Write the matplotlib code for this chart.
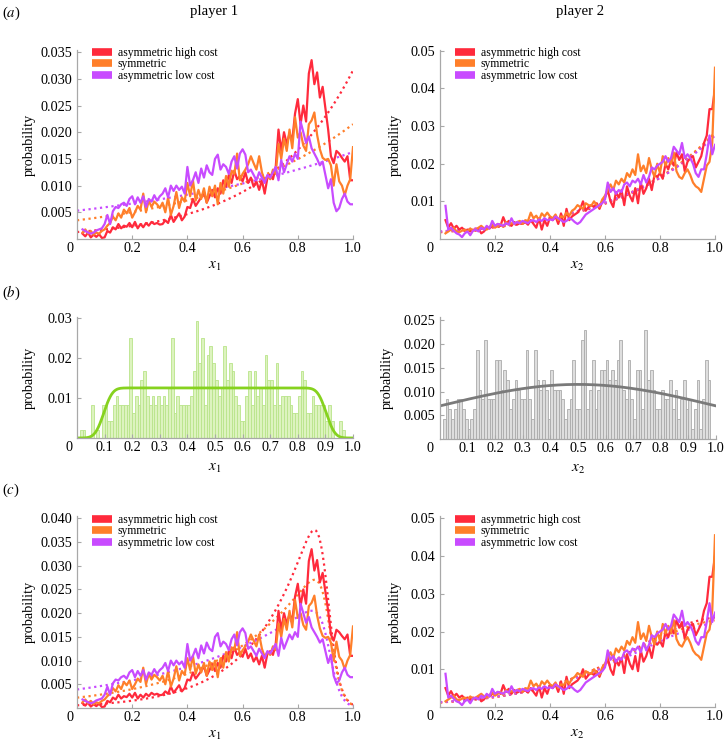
import numpy as np
import matplotlib
matplotlib.use("Agg")
import matplotlib.pyplot as plt
from matplotlib.lines import Line2D
from math import erf

plt.rcParams['font.family'] = ['Liberation Serif', 'DejaVu Serif']
plt.rcParams['mathtext.fontset'] = 'stix'

# ---------------- data ----------------
x_vals = np.round(np.arange(2, 101) / 100, 2)   # 0.02 ... 1.00

series_labels = ['asymmetric high cost', 'symmetric', 'asymmetric low cost']
series_colors = ['#FF2A3C', '#FF7F2A', '#C84BFF']

# player 1 (x1) distributions
p1_high = ([0.0010, 0.0005, 0.0012, 0.0003, 0.0008, 0.0004, 0.0009, 0.0002, 0.0003] +
           [0.0015, 0.0012, 0.0022, 0.0018, 0.0028, 0.0020, 0.0025, 0.0023, 0.0030, 0.0022] +
           [0.0032, 0.0020, 0.0028, 0.0022, 0.0030, 0.0025, 0.0032, 0.0028, 0.0030, 0.0027] +
           [0.0028, 0.0035, 0.0030, 0.0045, 0.0032, 0.0040, 0.0048, 0.0035, 0.0042, 0.0060] +
           [0.0058, 0.0075, 0.0062, 0.0070, 0.0078, 0.0088, 0.0068, 0.0080, 0.0092, 0.0078] +
           [0.0095, 0.0085, 0.0110, 0.0098, 0.0120, 0.0105, 0.0128, 0.0112, 0.0118, 0.0108] +
           [0.0125, 0.0105, 0.0115, 0.0098, 0.0108, 0.0092, 0.0110, 0.0085, 0.0115, 0.0120] +
           [0.0112, 0.0135, 0.0205, 0.0165, 0.0200, 0.0178, 0.0198, 0.0185, 0.0235, 0.0262] +
           [0.0215, 0.0250, 0.0220, 0.0310, 0.0335, 0.0290, 0.0312, 0.0265, 0.0285, 0.0245] +
           [0.0205, 0.0155, 0.0142, 0.0165, 0.0160, 0.0152, 0.0145, 0.0155, 0.0110, 0.0110])
p1_sym = ([0.0012, 0.0018, 0.0010, 0.0015, 0.0008, 0.0012, 0.0010, 0.0015, 0.0018] +
          [0.0025, 0.0030, 0.0042, 0.0035, 0.0048, 0.0040, 0.0055, 0.0048, 0.0058, 0.0040] +
          [0.0050, 0.0062, 0.0055, 0.0085, 0.0050, 0.0072, 0.0060, 0.0070, 0.0065, 0.0058] +
          [0.0068, 0.0050, 0.0078, 0.0045, 0.0062, 0.0088, 0.0058, 0.0078, 0.0070, 0.0105] +
          [0.0080, 0.0110, 0.0072, 0.0092, 0.0075, 0.0095, 0.0068, 0.0098, 0.0080, 0.0100] +
          [0.0065, 0.0105, 0.0085, 0.0118, 0.0098, 0.0128, 0.0122, 0.0160, 0.0110, 0.0122] +
          [0.0130, 0.0140, 0.0155, 0.0142, 0.0130, 0.0155, 0.0125, 0.0108, 0.0118, 0.0112] +
          [0.0130, 0.0122, 0.0178, 0.0150, 0.0188, 0.0165, 0.0205, 0.0170, 0.0228, 0.0190] +
          [0.0200, 0.0175, 0.0165, 0.0215, 0.0222, 0.0237, 0.0195, 0.0168, 0.0152, 0.0148] +
          [0.0150, 0.0138, 0.0100, 0.0140, 0.0108, 0.0100, 0.0082, 0.0100, 0.0112, 0.0172])
p1_low = ([0.0018, 0.0015, 0.0012, 0.0010, 0.0012, 0.0016, 0.0018, 0.0020, 0.0028] +
          [0.0045, 0.0028, 0.0052, 0.0060, 0.0058, 0.0065, 0.0068, 0.0062, 0.0075, 0.0080] +
          [0.0065, 0.0078, 0.0068, 0.0080, 0.0060, 0.0075, 0.0070, 0.0082, 0.0072, 0.0080] +
          [0.0085, 0.0095, 0.0078, 0.0100, 0.0090, 0.0100, 0.0092, 0.0098, 0.0085, 0.0135] +
          [0.0100, 0.0110, 0.0125, 0.0105, 0.0132, 0.0115, 0.0138, 0.0125, 0.0120, 0.0150] +
          [0.0158, 0.0130, 0.0140, 0.0135, 0.0122, 0.0145, 0.0155, 0.0132, 0.0160, 0.0168] +
          [0.0158, 0.0125, 0.0130, 0.0120, 0.0110, 0.0125, 0.0115, 0.0105, 0.0120, 0.0115] +
          [0.0125, 0.0135, 0.0110, 0.0148, 0.0125, 0.0140, 0.0155, 0.0145, 0.0160, 0.0150] +
          [0.0220, 0.0200, 0.0180, 0.0192, 0.0170, 0.0160, 0.0150, 0.0138, 0.0145, 0.0120] +
          [0.0095, 0.0112, 0.0068, 0.0052, 0.0058, 0.0075, 0.0085, 0.0070, 0.0065, 0.0065])

# player 2 (x2) distributions
p2_high = ([0.0050, 0.0030, 0.0042, 0.0028, 0.0035, 0.0025, 0.0030, 0.0022, 0.0025] +
           [0.0020, 0.0025, 0.0022, 0.0028, 0.0015, 0.0020, 0.0030, 0.0028, 0.0035, 0.0032] +
           [0.0040, 0.0035, 0.0058, 0.0040, 0.0048, 0.0035, 0.0045, 0.0038, 0.0042, 0.0040] +
           [0.0045, 0.0038, 0.0050, 0.0040, 0.0030, 0.0055, 0.0025, 0.0050, 0.0035, 0.0058] +
           [0.0050, 0.0060, 0.0040, 0.0068, 0.0035, 0.0080, 0.0050, 0.0060, 0.0065, 0.0070] +
           [0.0080, 0.0100, 0.0075, 0.0085, 0.0090, 0.0085, 0.0095, 0.0080, 0.0100, 0.0110] +
           [0.0130, 0.0100, 0.0085, 0.0125, 0.0110, 0.0130, 0.0090, 0.0140, 0.0115, 0.0100] +
           [0.0135, 0.0095, 0.0150, 0.0120, 0.0135, 0.0160, 0.0130, 0.0170, 0.0165, 0.0175] +
           [0.0160, 0.0200, 0.0185, 0.0210, 0.0195, 0.0230, 0.0210, 0.0225, 0.0180, 0.0205] +
           [0.0215, 0.0220, 0.0190, 0.0205, 0.0220, 0.0255, 0.0275, 0.0345, 0.0345, 0.0400])
p2_sym = ([0.0015, 0.0020, 0.0025, 0.0030, 0.0020, 0.0018, 0.0022, 0.0025, 0.0020] +
          [0.0028, 0.0022, 0.0025, 0.0030, 0.0035, 0.0028, 0.0025, 0.0032, 0.0038, 0.0030] +
          [0.0035, 0.0040, 0.0032, 0.0045, 0.0038, 0.0042, 0.0040, 0.0045, 0.0048, 0.0040] +
          [0.0050, 0.0048, 0.0070, 0.0055, 0.0062, 0.0050, 0.0068, 0.0060, 0.0070, 0.0060] +
          [0.0055, 0.0065, 0.0050, 0.0060, 0.0058, 0.0070, 0.0062, 0.0075, 0.0080, 0.0090] +
          [0.0085, 0.0080, 0.0095, 0.0090, 0.0088, 0.0100, 0.0090, 0.0085, 0.0105, 0.0115] +
          [0.0130, 0.0145, 0.0130, 0.0155, 0.0145, 0.0160, 0.0150, 0.0175, 0.0165, 0.0185] +
          [0.0170, 0.0225, 0.0180, 0.0195, 0.0175, 0.0215, 0.0185, 0.0165, 0.0200, 0.0175] +
          [0.0220, 0.0195, 0.0215, 0.0200, 0.0230, 0.0180, 0.0165, 0.0160, 0.0175, 0.0185] +
          [0.0170, 0.0150, 0.0140, 0.0135, 0.0125, 0.0160, 0.0195, 0.0205, 0.0255, 0.0455])
p2_low = ([0.0088, 0.0025, 0.0030, 0.0022, 0.0015, 0.0012, 0.0005, 0.0015, 0.0020] +
          [0.0010, 0.0022, 0.0025, 0.0020, 0.0030, 0.0025, 0.0035, 0.0028, 0.0048, 0.0035] +
          [0.0040, 0.0038, 0.0035, 0.0042, 0.0038, 0.0055, 0.0040, 0.0045, 0.0042, 0.0048] +
          [0.0045, 0.0042, 0.0048, 0.0050, 0.0045, 0.0052, 0.0048, 0.0055, 0.0050, 0.0052] +
          [0.0050, 0.0060, 0.0055, 0.0050, 0.0045, 0.0048, 0.0055, 0.0052, 0.0045, 0.0040] +
          [0.0045, 0.0055, 0.0065, 0.0070, 0.0075, 0.0080, 0.0085, 0.0090, 0.0095, 0.0105] +
          [0.0150, 0.0125, 0.0135, 0.0120, 0.0130, 0.0125, 0.0145, 0.0150, 0.0140, 0.0155] +
          [0.0150, 0.0160, 0.0145, 0.0170, 0.0150, 0.0165, 0.0190, 0.0185, 0.0195, 0.0200] +
          [0.0205, 0.0220, 0.0205, 0.0215, 0.0245, 0.0235, 0.0225, 0.0255, 0.0215, 0.0225] +
          [0.0215, 0.0200, 0.0175, 0.0165, 0.0185, 0.0185, 0.0225, 0.0275, 0.0225, 0.0250])

# (b) histograms: counts per 0.01-wide bin, out of hist_total samples
hist_total = 480
bin_edges = np.arange(100) / 100
hist1_counts = [0, 1, 1, 0, 0, 4, 0, 1, 0, 4,
                4, 2, 2, 4, 5, 4, 4, 4, 4, 12,
                3, 5, 4, 7, 8, 5, 4, 5, 4, 5,
                4, 5, 4, 6, 12, 3, 5, 4, 4, 4,
                4, 5, 8, 14, 9, 12, 4, 10, 11, 9,
                7, 5, 6, 11, 7, 9, 8, 5, 4, 2,
                2, 5, 8, 4, 8, 5, 6, 4, 10, 7,
                7, 4, 9, 4, 5, 5, 5, 4, 3, 3,
                5, 8, 7, 3, 3, 5, 4, 4, 4, 4,
                2, 4, 2, 0, 0, 2, 1, 0, 0, 0]
hist2_counts = [0, 2, 4, 3, 2, 3, 4, 4, 3, 2,
                1, 2, 3, 9, 5, 4, 10, 4, 4, 4,
                8, 8, 5, 7, 6, 3, 4, 6, 5, 4,
                4, 9, 4, 2, 9, 6, 5, 6, 5, 2,
                7, 5, 5, 5, 4, 2, 3, 4, 8, 3,
                3, 10, 11, 3, 5, 8, 3, 5, 7, 7,
                8, 6, 7, 6, 8, 10, 5, 4, 8, 4,
                2, 7, 7, 3, 11, 6, 7, 5, 3, 3,
                5, 4, 4, 6, 3, 5, 2, 4, 6, 3,
                4, 1, 3, 6, 1, 4, 8, 6, 0, 0]

# fitted model parameters
fit_a_p1 = [(0.0013, 3.19), (0.0035, 1.815), (0.0053, 1.123)]          # A*exp(b x)
fit_a_p2 = [(0.0018, 2.75), (0.0019, 2.70), (0.0020, 2.62)]
fit_c_p1 = [(0.000566, 5.0, 0.904, 0.02), (0.00218, 3.0, 0.915, 0.02),
            (0.0039, 2.0, 0.914, 0.02)]                                  # A*exp(bx)/(1+exp((x-x0)/w))
fit_c_p2 = [(0.0012, 4.0, 0.901, 0.175), (0.00125, 3.9, 0.905, 0.18),
            (0.0013, 3.8, 0.91, 0.19)]
plateau = (0.0125, 0.097, 0.903, 0.025)       # height, left edge, right edge, smoothing
gauss = (0.0115, 0.5, 0.5)                    # height, centre, width

for s in (p1_high, p1_sym, p1_low, p2_high, p2_sym, p2_low):
    assert len(s) == len(x_vals)

xs = np.linspace(0, 1, 400)
phi = np.vectorize(lambda z: 0.5 * (1 + erf(z / np.sqrt(2))))

# ---------------- figure ----------------
W, H = 725, 747
fig = plt.figure(figsize=(W / 100, H / 100), dpi=100)
GRAY = '#A8A8A8'
FS = 10.3


def make_axes(l, r, b, t):
    return fig.add_axes([l / W, 1 - b / H, (r - l) / W, (b - t) / H])


def style(ax, ylim, yticks, ylabels, xticks, xlabels, ylab_off, xlab, xlab_off, zero_off):
    ax.set_xlim(0, 1)
    ax.set_ylim(*ylim)
    for s in ['top', 'right']:
        ax.spines[s].set_visible(False)
    for s in ['left', 'bottom']:
        ax.spines[s].set_color(GRAY)
        ax.spines[s].set_linewidth(0.9)
    ax.set_yticks(yticks, ylabels)
    ax.set_xticks(xticks, xlabels)
    ax.tick_params(direction='in', length=3, width=0.8, color=GRAY, labelsize=FS)
    ax.tick_params(axis='x', pad=2.5)
    ax.tick_params(axis='y', pad=3.5)
    ax.annotate('0', xy=(0, 0), xycoords='axes fraction', xytext=(zero_off, -2.5),
                textcoords='offset points', ha='center', va='top', fontsize=FS)
    ax.annotate('probability', xy=(0, 0.5), xycoords='axes fraction',
                xytext=(-ylab_off * 0.72, 0), textcoords='offset points',
                ha='center', va='center', rotation=90, fontsize=FS)
    ax.annotate(xlab, xy=(0.5, 0), xycoords='axes fraction',
                xytext=(0, -xlab_off * 0.72), textcoords='offset points',
                ha='center', va='center', fontsize=11)


def add_legend(ax, top_px):
    handles = [Line2D([], [], color=c, lw=5.5, solid_capstyle='butt') for c in series_colors]
    ax.legend(handles, series_labels, loc='upper left', bbox_to_anchor=(0.054, 1 + top_px),
              frameon=False, fontsize=8.4, handlelength=1.75, handletextpad=0.45,
              labelspacing=-0.05, borderpad=0, borderaxespad=0)


x_ticks_a = [0.2, 0.4, 0.6, 0.8, 1.0]
x_labels_a = ['0.2', '0.4', '0.6', '0.8', '1.0']
x_ticks_b = [round(0.1 * i, 1) for i in range(1, 11)]
x_labels_b = ['%.1f' % v for v in x_ticks_b]

p1_series = [p1_high, p1_sym, p1_low]
p2_series = [p2_high, p2_sym, p2_low]
DOT = (0, (1, 1.6))

# ---- (a) ----
ax = make_axes(77, 353, 239, 50)
for (A, b), c in zip(fit_a_p1, series_colors):
    ax.plot(xs, A * np.exp(b * xs), color=c, lw=1.6, ls=DOT)
for s, c in zip(p1_series, series_colors):
    ax.plot(x_vals, s, color=c, lw=1.6)
style(ax, (0, 0.0354), [0.005 * i for i in range(1, 8)],
      ['0.005', '0.010', '0.015', '0.020', '0.025', '0.030', '0.035'],
      x_ticks_a, x_labels_a, 48, '$x_1$', 27, -5)
add_legend(ax, 3 / 189)

ax = make_axes(440, 715, 239, 50)
for (A, b), c in zip(fit_a_p2, series_colors):
    ax.plot(xs, A * np.exp(b * xs), color=c, lw=1.6, ls=DOT)
for s, c in zip(p2_series, series_colors):
    ax.plot(x_vals, s, color=c, lw=1.6)
style(ax, (0, 0.0502), [0.01 * i for i in range(1, 6)],
      ['0.01', '0.02', '0.03', '0.04', '0.05'],
      x_ticks_a, x_labels_a, 45, '$x_2$', 27, -7)
add_legend(ax, 3 / 189)

# ---- (b) ----
ax = make_axes(77, 353, 438, 317)
ax.bar(bin_edges, np.array(hist1_counts) / hist_total, width=0.01, align='edge',
       color='#DDF3BF', edgecolor='#B9E48A', lw=0.6)
h, a0, b0, w = plateau
ax.plot(xs, h * phi((xs - a0) / w) * phi((b0 - xs) / w), color='#86D21E', lw=2)
style(ax, (0, 0.0302), [0.01, 0.02, 0.03], ['0.01', '0.02', '0.03'],
      x_ticks_b, x_labels_b, 48, '$x_1$', 30, -6)

ax = make_axes(440, 716, 439, 317)
ax.bar(bin_edges, np.array(hist2_counts) / hist_total, width=0.01, align='edge',
       color='#DEDEDE', edgecolor='#ABABAB', lw=0.6)
h, mu, sd = gauss
ax.plot(xs, h * np.exp(-(xs - mu) ** 2 / (2 * sd ** 2)), color='#7A7A7A', lw=2)
style(ax, (0, 0.0257), [0.005 * i for i in range(1, 6)],
      ['0.005', '0.010', '0.015', '0.020', '0.025'],
      x_ticks_b, x_labels_b, 53, '$x_2$', 30, -7)

# ---- (c) ----
def cut_model(x, A, b, x0, w):
    return A * np.exp(b * x) / (1 + np.exp((x - x0) / w))


ax = make_axes(77, 353, 708, 516)
for p, c in zip(fit_c_p1, series_colors):
    ax.plot(xs, cut_model(xs, *p), color=c, lw=1.6, ls=DOT)
for s, c in zip(p1_series, series_colors):
    ax.plot(x_vals, s, color=c, lw=1.6)
style(ax, (0, 0.0405), [0.005 * i for i in range(1, 9)],
      ['0.005', '0.010', '0.015', '0.020', '0.025', '0.030', '0.035', '0.040'],
      x_ticks_a, x_labels_a, 48, '$x_1$', 27, -5)
add_legend(ax, 2 / 192)

ax = make_axes(440, 715, 707, 516)
for p, c in zip(fit_c_p2, series_colors):
    ax.plot(xs, cut_model(xs, *p), color=c, lw=1.6, ls=DOT)
for s, c in zip(p2_series, series_colors):
    ax.plot(x_vals, s, color=c, lw=1.6)
style(ax, (0, 0.0506), [0.01 * i for i in range(1, 6)],
      ['0.01', '0.02', '0.03', '0.04', '0.05'],
      x_ticks_a, x_labels_a, 45, '$x_2$', 27, -7)
add_legend(ax, 2 / 191)

# ---- titles and panel labels ----
fig.text(214 / W, 1 - 12 / H, 'player 1', ha='center', va='center', fontsize=10.6)
fig.text(580 / W, 1 - 12 / H, 'player 2', ha='center', va='center', fontsize=10.6)
for lab, y in [('a', 13), ('b', 293), ('c', 490)]:
    fig.text(2 / W, 1 - y / H, '(' + '$' + lab + '$' + ')', ha='left', va='center', fontsize=10.6)

fig.savefig('out.png', dpi=100)
